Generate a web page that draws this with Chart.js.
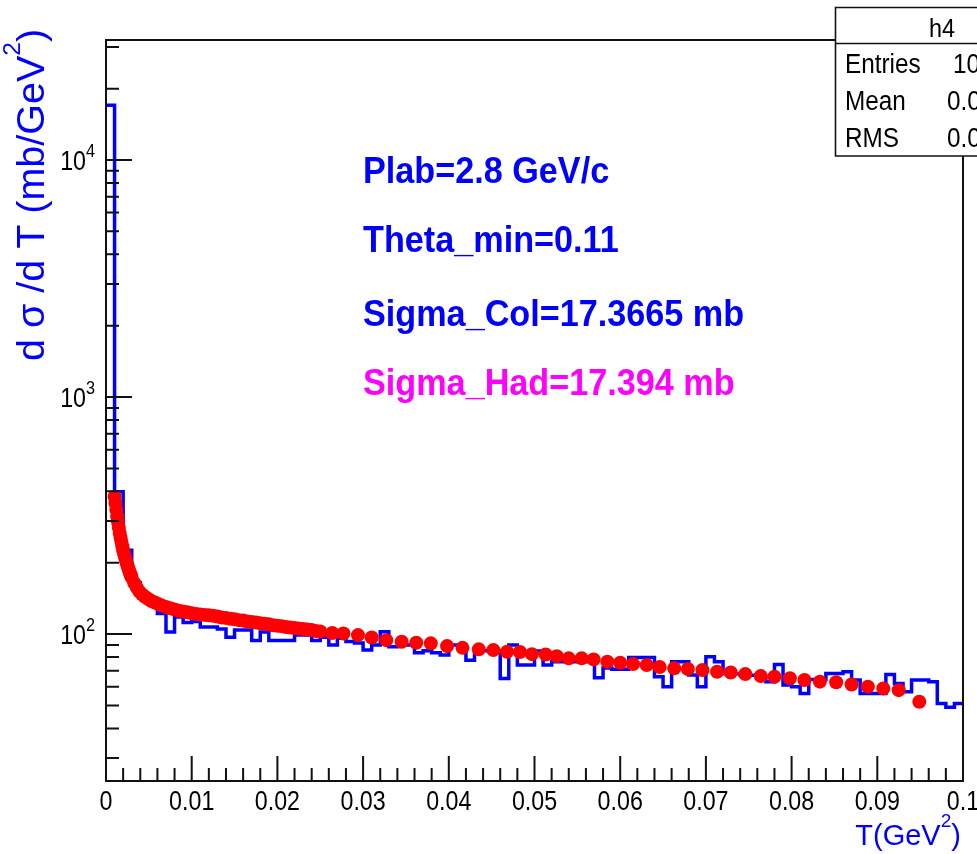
<!DOCTYPE html>
<html>
<head>
<meta charset="utf-8">
<script src="https://cdn.jsdelivr.net/npm/chart.js@4.4.1/dist/chart.umd.min.js"></script>
<style>
html,body{margin:0;padding:0;background:#ffffff;overflow:hidden}
canvas{display:block}
</style>
</head>
<body>
<canvas id="c" width="977" height="854"></canvas>
<script>
// ---------------- DATA ----------------
// histogram h4: bin lower edges (GeV^2), last entry is the upper edge of the last bin
const binEdges = [0,0.001,0.002,0.003,0.004,0.005,0.006,0.007,0.008,0.009,
  0.010,0.011,0.012,0.013,0.014,0.015,0.016,0.017,0.018,0.019,
  0.020,0.021,0.022,0.023,0.024,0.025,0.026,0.027,0.028,0.029,
  0.030,0.031,0.032,0.033,0.034,0.035,0.036,0.037,0.038,0.039,
  0.040,0.041,0.042,0.043,0.044,0.045,0.046,0.047,0.048,0.049,
  0.050,0.051,0.052,0.053,0.054,0.055,0.056,0.057,0.058,0.059,
  0.060,0.061,0.062,0.063,0.064,0.065,0.066,0.067,0.068,0.069,
  0.070,0.071,0.072,0.073,0.074,0.075,0.076,0.077,0.078,0.079,
  0.080,0.081,0.082,0.083,0.084,0.085,0.086,0.087,0.088,0.089,
  0.090,0.091,0.092,0.093,0.094,0.095,0.096,0.097,0.098,0.099,0.100];

// histogram contents dsigma/dT (mb/GeV^2), one per bin
const histValues = [17000,399,226,165,143,135,122,102,118,112,
  113,107,107,105,97,104,104,94,102,94,
  94,94,99,99,94,97,90,96,93,91.6,
  85.6,89.9,102.3,88.4,90,90,83.4,85,83.4,81.6,
  89.9,89.9,77.6,85,85,85,65,89.9,74,74,
  84.8,74,76.4,76.4,76.4,76.4,76.4,65.4,71.9,71,
  71,79.7,79.7,79.7,66,60,76.4,76.4,67.2,60,
  80.2,76.4,68,68,67,67,66,63,74.5,61,
  60,56.2,64.4,64.4,68.2,68.2,69.3,64,56.2,56.2,
  56.2,67.6,61.9,57.1,64,64,62.9,51,49.1,51];

// hadronic calculation (red points): T values and dsigma/dT
const hadT = [0.0010,0.0011,0.0012,0.0013,0.0014,0.0015,0.0016,0.0017,0.0018,0.0019,
  0.0020,0.0021,0.0022,0.0023,0.0024,0.0025,0.0026,0.0027,0.0028,0.0029,0.0030,
  0.0033,0.0036,0.0039,0.0042,0.0045,0.0049,0.0053,0.0057,0.0061,0.0065,
  0.0070,0.0075,0.0080,0.0085,0.0090,0.0095,0.0100,0.0105,0.0110,0.0115,0.0120,0.0125,
  0.0130,0.0135,0.0140,0.0145,0.0150,0.0155,0.0160,0.0165,0.0170,0.0175,0.0180,0.0185,
  0.0190,0.0195,0.0200,0.0205,0.0210,0.0215,0.0220,0.0225,0.0230,0.0235,0.0240,0.0245,0.0250,
  0.0264,0.0277,0.0294,0.0310,0.0327,0.0345,0.0362,0.0379,0.0398,0.0416,0.0435,0.0452,
  0.0468,0.0483,0.0497,0.0513,0.0526,0.0540,0.0555,0.0569,0.0585,0.0600,0.0615,0.0631,
  0.0646,0.0663,0.0679,0.0696,0.0713,0.0729,0.0746,0.0764,0.0780,0.0798,0.0815,0.0833,
  0.0852,0.0870,0.0889,0.0907,0.0925,0.0949];
const hadValues = [380,357,335,315,297,281,267,255,245,235,
  226,219,212,206,200,195,190,185,181,177,173,
  164,157,151,147,144,141,138,136,134,132,
  130,128.5,127,125.5,124.5,123.5,122.5,121.5,121,120.5,120,119.5,
  118.5,117.5,117,116,115.5,114.5,114,113,112.5,112,111,110.5,
  110,109,108.5,108,107,106.5,106,105.5,105,104.5,104,103,102.5,
  101,100.5,99,96.8,94.3,92.8,91.9,91.4,89,87.5,86.2,85.6,
  84.2,84,82.3,82,80.7,79,79,78.2,76.4,75.7,74.7,74,
  72.6,71.7,71.2,70.5,69.4,68.9,67.8,66.5,66.1,65.1,64,63,
  62.6,61.3,60,59,58,51.8];

// axis ticks and labels
const xTickValues = [0,0.01,0.02,0.03,0.04,0.05,0.06,0.07,0.08,0.09,0.1];
const xTickLabels = ['0','0.01','0.02','0.03','0.04','0.05','0.06','0.07','0.08','0.09','0.1'];
const yTickValues = [100,1000,10000];
const yTickExponents = ['2','3','4'];

// text
const annotations = [
  {text:'Plab=2.8 GeV/c', color:'#0000ff'},
  {text:'Theta_min=0.11', color:'#0000ff'},
  {text:'Sigma_Col=17.3665 mb', color:'#0000ff'},
  {text:'Sigma_Had=17.394 mb', color:'#ff00ff'}
];
const statsTitle = 'h4';
const statsNames = ['Entries','Mean','RMS'];
const statsValues = ['10','0.0','0.0'];

// ---------------- RENDER ----------------
const HF = '"Liberation Sans", Arial, Helvetica, sans-serif';

function richWidth(ctx, parts, o){
  let w = 0;
  for (const p of parts){
    const sz = p.sup ? o.size*(o.supScale||0.66) : o.size;
    ctx.font = (o.bold?'bold ':'') + sz + 'px ' + HF;
    w += ctx.measureText(p.t).width * (o.sx||1);
  }
  return w;
}
function rich(ctx, parts, x, y, o){
  ctx.save();
  const sx = o.sx || 1;
  const w = richWidth(ctx, parts, o);
  let cx = x;
  if (o.align === 'center') cx = x - w/2;
  else if (o.align === 'right') cx = x - w;
  ctx.fillStyle = o.color || '#000';
  ctx.textAlign = 'left';
  ctx.textBaseline = 'alphabetic';
  for (const p of parts){
    const sz = p.sup ? o.size*(o.supScale||0.66) : o.size;
    ctx.font = (o.bold?'bold ':'') + sz + 'px ' + HF;
    const dy = p.sup ? -o.size*(o.supRaise||0.5) : 0;
    ctx.save();
    ctx.translate(cx, y + dy);
    ctx.scale(sx, 1);
    ctx.fillText(p.t, 0, 0);
    ctx.restore();
    cx += ctx.measureText(p.t).width * sx;
  }
  ctx.restore();
  return w;
}

const rootStyle = {
  id: 'rootStyle',
  afterDraw(chart){
    const ctx = chart.ctx;
    const a = chart.chartArea;
    const xs = chart.scales.x, ys = chart.scales.y;
    ctx.save();
    // frame
    ctx.strokeStyle = '#111';
    ctx.lineWidth = 2;
    ctx.strokeRect(a.left, a.top, a.right - a.left, a.bottom - a.top);
    // x ticks (inward, bottom axis)
    ctx.lineWidth = 2;
    ctx.beginPath();
    for (let i = 0; i < xTickValues.length; i++){
      const px = xs.getPixelForValue(xTickValues[i]);
      ctx.moveTo(px, a.bottom); ctx.lineTo(px, a.bottom - 25);
      if (i < xTickValues.length - 1){
        const step = (xTickValues[i+1] - xTickValues[i]) / 5;
        for (let m = 1; m < 5; m++){
          const pm = xs.getPixelForValue(xTickValues[i] + m*step);
          ctx.moveTo(pm, a.bottom); ctx.lineTo(pm, a.bottom - 13);
        }
      }
    }
    // y ticks (inward, left axis)
    for (const v of yTickValues){
      const py = ys.getPixelForValue(v);
      ctx.moveTo(a.left, py); ctx.lineTo(a.left + 26, py);
    }
    for (const dec of [10,100,1000,10000]){
      for (let m = 2; m <= 9; m++){
        const v = dec*m;
        if (v <= ys.min || v >= ys.max) continue;
        const py = ys.getPixelForValue(v);
        ctx.moveTo(a.left, py); ctx.lineTo(a.left + 13, py);
      }
    }
    ctx.stroke();
    // x tick labels
    for (let i = 0; i < xTickValues.length; i++){
      const px = xs.getPixelForValue(xTickValues[i]);
      rich(ctx, [{t:xTickLabels[i]}], px, 810, {size:27, sx:0.86, align:'center', color:'#000'});
    }
    // y tick labels
    for (let i = 0; i < yTickValues.length; i++){
      const py = ys.getPixelForValue(yTickValues[i]);
      rich(ctx, [{t:'10'},{t:yTickExponents[i], sup:true}], 95, py + 10,
        {size:27, sx:0.86, align:'right', color:'#000', supScale:0.7, supRaise:0.48});
    }
    // axis titles
    rich(ctx, [{t:'T(GeV'},{t:'2', sup:true},{t:')'}], 961, 845,
      {size:29, align:'right', color:'#0000ff', supScale:0.66, supRaise:0.62});
    ctx.save();
    ctx.translate(44, 195);
    ctx.rotate(-Math.PI/2);
    rich(ctx, [{t:'d \u03c3 /d T (mb/GeV'},{t:'2', sup:true},{t:')'}], 0, 0,
      {size:39.5, align:'center', color:'#0000ff', supScale:0.62, supRaise:0.6});
    ctx.restore();
    // annotations
    const baselines = [183, 251.5, 325.5, 395];
    annotations.forEach((an, i) => {
      rich(ctx, [{t:an.text}], 363, baselines[i], {size:36, bold:true, sx:0.95, color:an.color});
    });
    // stats box
    ctx.fillStyle = '#ffffff';
    ctx.fillRect(835, 7, 160, 149);
    ctx.strokeStyle = '#111';
    ctx.lineWidth = 1.6;
    ctx.beginPath();
    ctx.moveTo(990, 7.5); ctx.lineTo(835.5, 7.5); ctx.lineTo(835.5, 156); ctx.lineTo(990, 156);
    ctx.moveTo(835.5, 43.5); ctx.lineTo(990, 43.5);
    ctx.stroke();
    rich(ctx, [{t:statsTitle}], 942, 37, {size:26, sx:0.9, align:'center', color:'#000'});
    const rowBase = [73, 110, 147];
    const valX = [953, 947, 947];
    for (let i = 0; i < statsNames.length; i++){
      rich(ctx, [{t:statsNames[i]}], 845, rowBase[i], {size:27, sx:0.9, color:'#000'});
      rich(ctx, [{t:statsValues[i]}], valX[i], rowBase[i], {size:27, sx:0.9, color:'#000'});
    }
    ctx.restore();
  }
};

const histPoints = histValues.map((v, i) => ({x: binEdges[i], y: v}));
histPoints.push({x: binEdges[binEdges.length - 1], y: histValues[histValues.length - 1]});
const hadPoints = hadT.map((t, i) => ({x: t, y: hadValues[i]}));

new Chart(document.getElementById('c').getContext('2d'), {
  type: 'scatter',
  data: {
    datasets: [
      {
        label: 'Sigma_Had',
        data: hadPoints,
        showLine: false,
        pointRadius: 7,
        pointHoverRadius: 7,
        pointBackgroundColor: '#ff0000',
        pointBorderColor: '#ff0000',
        pointBorderWidth: 0,
        order: 0
      },
      {
        label: 'h4',
        type: 'line',
        data: histPoints,
        stepped: 'before',
        borderColor: '#0000ff',
        borderWidth: 3.5,
        pointRadius: 0,
        fill: false,
        order: 1
      }
    ]
  },
  options: {
    responsive: false,
    animation: false,
    devicePixelRatio: 1,
    layout: {padding: {left: 106, right: 14, top: 40, bottom: 73}},
    scales: {
      x: {type: 'linear', min: 0, max: 0.1, display: false},
      y: {type: 'logarithmic', min: 24, max: 32080, display: false}
    },
    plugins: {legend: {display: false}, tooltip: {enabled: false}}
  },
  plugins: [rootStyle]
});
</script>
</body>
</html>
